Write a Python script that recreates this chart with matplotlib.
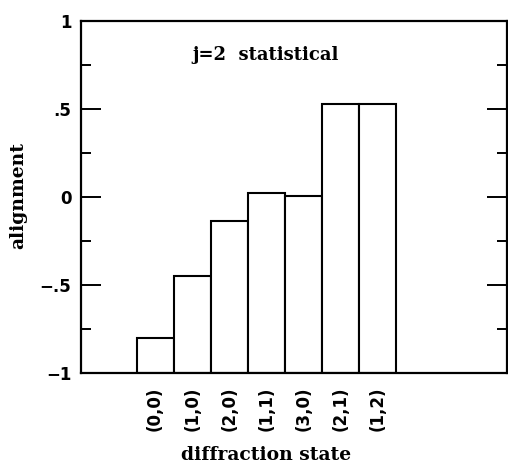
import numpy as np
import matplotlib.pyplot as plt
from matplotlib.ticker import MultipleLocator

# diffraction states and their alignment values
states = ['(0,0)', '(1,0)', '(2,0)', '(1,1)', '(3,0)', '(2,1)', '(1,2)']
alignment = [-0.80, -0.447, -0.135, 0.021, 0.006, 0.527, 0.527]
ytick_vals = [-1, -0.5, 0, 0.5, 1]
ytick_labels = ['\u22121', '\u2212.5', '0', '.5', '1']

fig = plt.figure(figsize=(5.08, 4.70), dpi=100)
ax = fig.add_axes([81 / 508, 1 - 373 / 470, 426 / 508, 352 / 470])

base = -1.0
x = np.arange(len(states)) + 2
heights = [v - base for v in alignment]
ax.bar(x, heights, bottom=base, width=1.0, facecolor='white',
       edgecolor='black', linewidth=1.5)

ax.set_xlim(0, 11.5)
ax.set_ylim(-1, 1)

ax.set_yticks(ytick_vals)
ax.set_yticklabels(ytick_labels, fontsize=12, fontweight='bold')
ax.yaxis.set_minor_locator(MultipleLocator(0.25))
ax.tick_params(axis='y', which='major', direction='in', length=14.4, width=1.4,
               right=True, pad=7)
ax.tick_params(axis='y', which='minor', direction='in', length=7.2, width=1.4,
               right=True)

ax.set_xticks(x)
ax.set_xticklabels(states, rotation=90, fontsize=12, fontweight='bold')
ax.tick_params(axis='x', length=0, pad=10)

for s in ax.spines.values():
    s.set_linewidth(1.6)

fig.text(266 / 508, 1 - 55 / 470, 'j=2  statistical', ha='center', va='center',
         fontsize=13, fontweight='bold', family='DejaVu Serif')
fig.text(266 / 508, 1 - 455 / 470, 'diffraction state', ha='center', va='center',
         fontsize=13.5, fontweight='bold', family='DejaVu Serif')
fig.text(18 / 508, 1 - 196 / 470, 'alignment', ha='center', va='center',
         rotation=90, fontsize=13.5, fontweight='bold', family='DejaVu Serif')

fig.savefig('out.png', dpi=100)
